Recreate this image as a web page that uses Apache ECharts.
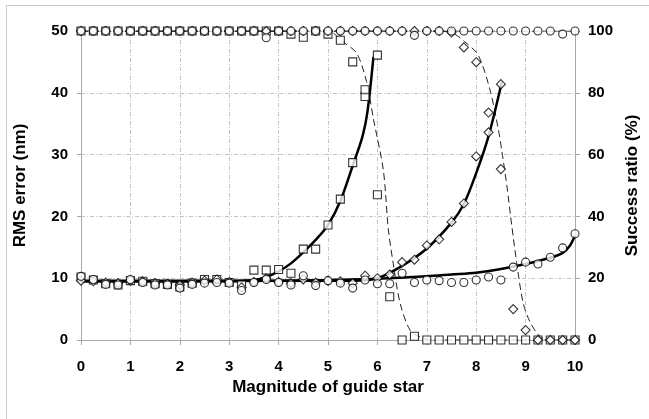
<!DOCTYPE html>
<html>
<head>
<meta charset="utf-8">
<script src="https://cdn.jsdelivr.net/npm/echarts@6/dist/echarts.min.js"></script>
<style>
  html, body { margin: 0; padding: 0; background: #fff; }
  #chart { width: 649px; height: 419px; }
</style>
</head>
<body>
<div id="chart"></div>
<script>
// magnitude of guide star, step 0.25
const mags = [0, 0.25, 0.5, 0.75, 1, 1.25, 1.5, 1.75, 2, 2.25, 2.5, 2.75, 3, 3.25, 3.5, 3.75, 4, 4.25, 4.5, 4.75,
  5, 5.25, 5.5, 5.75, 6, 6.25, 6.5, 6.75, 7, 7.25, 7.5, 7.75, 8, 8.25, 8.5, 8.75, 9, 9.25, 9.5, 9.75, 10];

// RMS error (nm), left axis
const rmsSquare = [10.2, 9.7, 9.1, 8.9, 9.6, 9.5, 9.1, 9.0, 8.6, 9.2, 9.8, 9.8, 9.3, 8.9, 11.3, 11.3, 11.4, 10.8, 14.7, 14.7,
  18.6, 22.8, 28.7, 39.4, 46.1];
const rmsDiamond = [9.6, 9.5, 9.3, 9.2, 9.6, 9.5, 9.2, 9.1, 8.9, 9.3, 9.6, 9.8, 9.4, 8.5, 9.4, 10.0, 9.4, 9.2, 9.8, 9.3,
  9.6, 9.5, 9.2, 10.4, 10.0, 10.6, 12.6, 13.0, 15.3, 16.3, 19.1, 22.1, 29.7, 33.6, 41.4];
const rmsCircle = [10.3, 9.8, 9.0, 8.9, 9.8, 9.3, 8.9, 8.9, 8.4, 9.0, 9.2, 9.3, 9.2, 8.0, 9.3, 9.8, 9.3, 8.9, 10.4, 8.8,
  9.6, 9.2, 8.4, 9.7, 9.1, 9.1, 10.8, 9.3, 9.7, 9.6, 9.3, 9.3, 9.7, 10.2, 9.7, 11.8, 12.6, 12.3, 13.4, 14.9, 17.2];

// success ratio (%), right axis
const okSquare = [100, 100, 100, 100, 100, 100, 100, 100, 100, 100, 100, 100, 100, 100, 100, 100, 100, 99, 98, 100,
  99, 97, 90, 81, 47, 14, 0, 1.2, 0, 0, 0, 0, 0, 0, 0, 0, 0, 0, 0, 0, 0];
const okDiamond = [100, 100, 100, 100, 100, 100, 100, 100, 100, 100, 100, 100, 100, 100, 100, 100, 100, 100, 100, 100,
  100, 100, 100, 100, 100, 100, 100, 100, 100, 100, 99.5, 94.7, 89.9, 73.6, 55.3, 10, 3.2, 0, 0, 0, 0];
const okCircle = [100, 100, 100, 100, 100, 100, 100, 100, 100, 100, 100, 100, 100, 100, 100, 97.8, 100, 100, 100, 100,
  100, 100, 100, 100, 100, 100, 100, 98.6, 100, 100, 100, 100, 100, 100, 100, 100, 100, 100, 100, 99, 100];

// fitted curves: [magnitude, value]
const fitRmsSquare = [[0, 9.5], [1, 9.5], [2, 9.5], [3, 9.5], [3.5, 9.7], [3.75, 10.2], [4, 11.1], [4.25, 12.4], [4.5, 14.2],
  [4.75, 16.2], [5, 18.6], [5.25, 22.5], [5.5, 28.2], [5.7, 33], [5.8, 37], [5.92, 45.8]];
const fitRmsDiamond = [[0, 9.6], [2, 9.6], [4, 9.6], [5.5, 9.6], [6, 10], [6.5, 12], [7, 14.8], [7.5, 19], [7.75, 22],
  [8, 27], [8.25, 33], [8.52, 41.8]];
const fitRmsCircle = [[0, 9.5], [2, 9.5], [4, 9.6], [5, 9.7], [6, 9.9], [7, 10.3], [7.5, 10.6], [8, 10.9], [8.5, 11.5],
  [9, 12.3], [9.5, 13.3], [9.75, 14.1], [9.9, 15.3], [10, 16.9]];
const fitOkSquare = [[0, 100], [5, 100], [5.3, 96.5], [5.58, 92.8], [5.78, 83.6], [5.92, 71.5], [6.12, 55], [6.22, 36],
  [6.32, 24.8], [6.46, 11.9], [6.66, 3.2], [6.86, 1], [7.1, 0], [10, 0]];
const fitOkDiamond = [[0, 100], [7.3, 100], [7.54, 99.2], [7.77, 96.5], [8.04, 92.2], [8.28, 80.9], [8.45, 68],
  [8.52, 61], [8.62, 50], [8.72, 37], [8.82, 25], [8.95, 12], [9.1, 5.5], [9.3, 1], [9.5, 0], [10, 0]];
const fitOkCircle = [[0, 100], [10, 100]];

const pair = (vals) => vals.map((v, i) => [mags[i], v]);

const font = 'Liberation Sans, Arial, sans-serif';
const gridLine = { show: true, lineStyle: { color: '#c4c4c4', width: 1, type: [4, 2, 1, 2] } };
const axisGray = '#a8a8a8';
const titleStyle = { fontSize: 17, fontWeight: 'bold', color: '#000', fontFamily: font };
const tickLabel = { fontSize: 15, fontWeight: 'bold', color: '#000', margin: 13, fontFamily: font };

const markerStyle = { color: '#fff', borderColor: '#000', borderWidth: 1.1 };
const scatter = (name, symbol, size, data, yIdx) => ({
  name, type: 'scatter', symbol, symbolSize: size, yAxisIndex: yIdx,
  data: pair(data), itemStyle: markerStyle, z: 5, silent: true
});
const fit = (data, yIdx, dashed) => ({
  type: 'line', yAxisIndex: yIdx, data, showSymbol: false, smooth: 0.3, silent: true, z: 3,
  lineStyle: dashed ? { color: '#222', width: 1, type: [7, 4] } : { color: '#000', width: 2.5 }
});

const chart = echarts.init(document.getElementById('chart'));
chart.setOption({
  animation: false,
  textStyle: { fontFamily: font },
  grid: { left: 81, right: 74, top: 31, bottom: 79 },
  graphic: [{
    type: 'rect', shape: { x: 6.5, y: 5.5, width: 700, height: 500 },
    style: { fill: 'none', stroke: '#c8c8c8', lineWidth: 1 }, silent: true
  }],
  xAxis: {
    type: 'value', min: 0, max: 10, interval: 1,
    name: 'Magnitude of guide star', nameLocation: 'middle', nameGap: 30,
    nameTextStyle: titleStyle,
    axisLine: { lineStyle: { color: axisGray } },
    axisTick: { show: true, length: 5, lineStyle: { color: axisGray } },
    axisLabel: Object.assign({}, tickLabel, { margin: 19 }),
    splitLine: gridLine
  },
  yAxis: [{
    type: 'value', min: 0, max: 50, interval: 10, position: 'left',
    name: 'RMS error (nm)', nameLocation: 'middle', nameGap: 52, nameRotate: 90,
    nameTextStyle: titleStyle,
    axisLine: { show: true, lineStyle: { color: axisGray } },
    axisTick: { show: true, length: 4, lineStyle: { color: axisGray } },
    axisLabel: tickLabel,
    splitLine: gridLine
  }, {
    type: 'value', min: 0, max: 100, interval: 20, position: 'right',
    name: 'Success ratio (%)', nameLocation: 'middle', nameGap: 45, nameRotate: 90,
    nameTextStyle: titleStyle,
    axisLine: { show: true, lineStyle: { color: axisGray } },
    axisTick: { show: true, length: 5, lineStyle: { color: axisGray } },
    axisLabel: tickLabel,
    splitLine: { show: false }
  }],
  series: [
    fit(fitOkCircle, 1, true),
    fit(fitOkSquare, 1, true),
    fit(fitOkDiamond, 1, true),
    fit(fitRmsCircle, 0, false),
    fit(fitRmsDiamond, 0, false),
    fit(fitRmsSquare, 0, false),
    scatter('rms square', 'rect', 8, rmsSquare, 0),
    scatter('rms diamond', 'diamond', 9, rmsDiamond, 0),
    scatter('rms circle', 'circle', 8, rmsCircle, 0),
    scatter('ok square', 'rect', 8, okSquare, 1),
    scatter('ok diamond', 'diamond', 9, okDiamond, 1),
    scatter('ok circle', 'circle', 8, okCircle, 1)
  ]
});
</script>
</body>
</html>
